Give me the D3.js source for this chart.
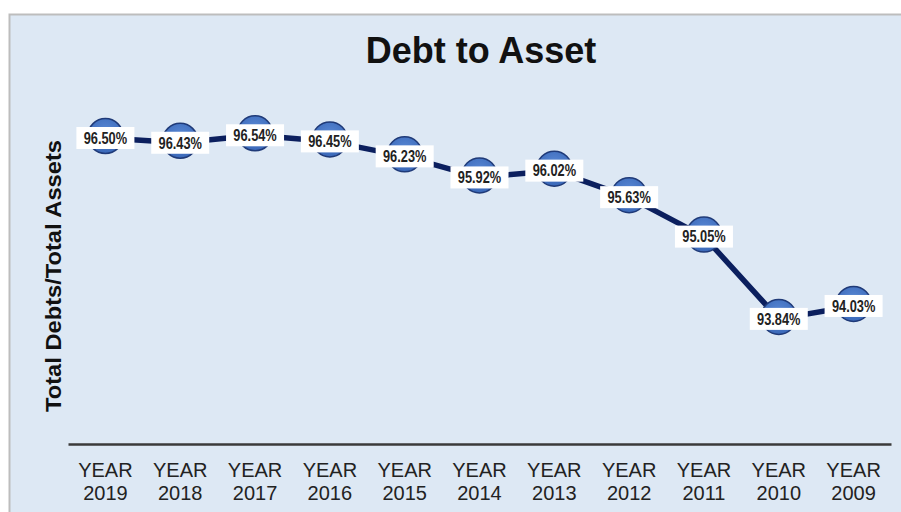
<!DOCTYPE html>
<html>
<head>
<meta charset="utf-8">
<script src="https://cdn.jsdelivr.net/npm/d3@7"></script>
<style>
  html, body { margin: 0; padding: 0; background: #ffffff; }
  svg { display: block; }
</style>
</head>
<body>
<div id="chart"></div>
<script>
// Debt-to-asset ratio by year (percent)
const years = ["2019", "2018", "2017", "2016", "2015", "2014", "2013", "2012", "2011", "2010", "2009"];
const ratios = [96.50, 96.43, 96.54, 96.45, 96.23, 95.92, 96.02, 95.63, 95.05, 93.84, 94.03];
const yDomain = [92, 97];
const chartTitle = "Debt to Asset";
const yTitle = "Total Debts/Total Assets";

const W = 901, H = 512;
const margin = { left: 68, right: 10, top: 104, bottom: 68 };

const svg = d3.select("#chart").append("svg")
  .attr("width", W).attr("height", H);

const defs = svg.append("defs");
const grad = defs.append("radialGradient").attr("id", "dotFill")
  .attr("cx", "50%").attr("cy", "40%").attr("r", "60%");
grad.append("stop").attr("offset", "0%").attr("stop-color", "#5b8ad6");
grad.append("stop").attr("offset", "100%").attr("stop-color", "#3a68b8");

// Panel background with grey border on top and left
svg.append("rect")
  .attr("x", 9).attr("y", 14).attr("width", W - 9).attr("height", H - 14)
  .attr("fill", "#dde8f4");
svg.append("path")
  .attr("d", `M9.5,${H} V14.5 H${W}`)
  .attr("fill", "none").attr("stroke", "#bdbdbd").attr("stroke-width", 2);

const data = years.map((y, i) => ({ year: y, value: ratios[i] }));

const x = d3.scaleBand()
  .domain(years)
  .range([margin.left, W - margin.right]);

const y = d3.scaleLinear()
  .domain(yDomain)
  .range([H - margin.bottom, margin.top]);

// Title
svg.append("text")
  .attr("x", 481).attr("y", 63)
  .attr("text-anchor", "middle")
  .attr("font-family", "Liberation Sans, Arial, sans-serif")
  .attr("font-weight", "bold").attr("font-size", 36)
  .attr("fill", "#111")
  .text(chartTitle);

// Y-axis title
svg.append("text")
  .attr("transform", `translate(61,276) rotate(-90)`)
  .attr("text-anchor", "middle")
  .attr("font-family", "Liberation Sans, Arial, sans-serif")
  .attr("font-weight", "bold").attr("font-size", 22)
  .attr("textLength", 272).attr("lengthAdjust", "spacingAndGlyphs")
  .attr("fill", "#111")
  .text(yTitle);

// X axis
const xAxis = svg.append("g")
  .attr("transform", `translate(0,${H - margin.bottom})`)
  .call(d3.axisBottom(x).tickSize(0).tickFormat(() => ""));
xAxis.select(".domain").attr("stroke", "#3a3a3a").attr("stroke-width", 2.5);
xAxis.selectAll(".tick text").remove();
const tickText = xAxis.selectAll(".tick").append("text")
  .attr("text-anchor", "middle")
  .attr("font-family", "Liberation Sans, Arial, sans-serif")
  .attr("font-size", 20)
  .attr("fill", "#222");
tickText.append("tspan").attr("x", 0).attr("y", 33).text("YEAR");
tickText.append("tspan").attr("x", 0).attr("y", 56).text(d => d);

// Line
const line = d3.line()
  .x(d => x(d.year) + x.bandwidth() / 2)
  .y(d => y(d.value));

svg.append("path")
  .datum(data)
  .attr("d", line)
  .attr("fill", "none")
  .attr("stroke", "#0b1f5e")
  .attr("stroke-width", 5.5)
  .attr("stroke-linejoin", "round");

// Markers
svg.selectAll("circle.dot")
  .data(data)
  .join("circle")
  .attr("class", "dot")
  .attr("cx", d => x(d.year) + x.bandwidth() / 2)
  .attr("cy", d => y(d.value) - 2)
  .attr("r", 17.5)
  .attr("fill", "url(#dotFill)")
  .attr("stroke", "#1f3a78")
  .attr("stroke-width", 1.5);

// Value labels: white box with condensed bold text
const fmt = d => d.toFixed(2) + "%";
const lbl = svg.selectAll("g.lbl")
  .data(data)
  .join("g")
  .attr("class", "lbl")
  .attr("transform", d => `translate(${x(d.year) + x.bandwidth() / 2},${y(d.value)})`);

lbl.append("rect")
  .attr("x", -29).attr("y", -11)
  .attr("width", 58).attr("height", 22)
  .attr("fill", "#ffffff");

lbl.append("text")
  .attr("transform", "scale(0.8,1)")
  .attr("text-anchor", "middle")
  .attr("dy", "0.36em")
  .attr("font-family", "Liberation Sans, Arial, sans-serif")
  .attr("font-weight", "bold").attr("font-size", 16)
  .attr("fill", "#222")
  .text(d => fmt(d.value));
</script>
</body>
</html>
